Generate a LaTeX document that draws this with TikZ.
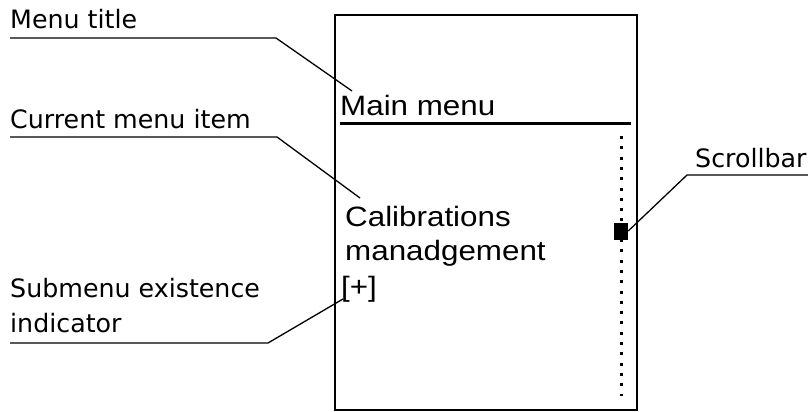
\documentclass[tikz,border=0pt]{standalone}
\usepackage{fontspec}
\setmainfont{DejaVu Sans}
\newfontfamily\dispfont[FakeStretch=1.12]{Liberation Sans}
\begin{document}
\begin{tikzpicture}[x=1pt,y=-1pt,
  lbl/.style={anchor=base west,inner sep=0pt,font=\fontsize{25.3}{35}\selectfont},
  disp/.style={anchor=base west,inner sep=0pt,font=\dispfont\fontsize{28}{34}\selectfont},
  leader/.style={line width=1.3pt},
  frame/.style={line width=2pt}]
\useasboundingbox (0,0) rectangle (808,412);
% screen frame
\draw[frame] (335,15) rectangle (637,410);
% display texts
\node[disp] (mm) at (340,115) {Main menu};
\draw[line width=2.8pt] (340,123.5) -- (631,123.5);
\node[disp] (cal) at (345,226) {Calibrations};
\node[disp] (man) at (345,260) {manadgement};
\node[disp] (plus) at (341,296) {[+]};
% scrollbar
\draw[line width=3pt, dash pattern=on 3pt off 7.3pt] (621,136) -- (621,396);
\node[fill=black,minimum width=14pt,minimum height=17pt,inner sep=0pt] (sb) at (621,231) {};
% labels
\node[lbl] (t1) at (10,29) {Menu title};
\node[lbl] (t2) at (10,128) {Current menu item};
\node[lbl] (t3) at (10,297) {Submenu existence};
\node[lbl] (t3b) at (10,332) {indicator};
\node[lbl] (t4) at (695,167) {Scrollbar};
% leader coordinates
\coordinate (a1) at (10,38);   \coordinate (b1) at (276,38);  \coordinate (c1) at (352,91);
\coordinate (a2) at (10,137);  \coordinate (b2) at (277,137); \coordinate (c2) at (360,198);
\coordinate (a3) at (10,343);  \coordinate (b3) at (268,343); \coordinate (c3) at (343,299);
\coordinate (a4) at (808,175); \coordinate (b4) at (687,175); \coordinate (c4) at (sb.east);
\draw[leader] (a1) -- (b1) -- (c1);
\draw[leader] (a2) -- (b2) -- (c2);
\draw[leader] (a3) -- (b3) -- (c3);
\draw[leader] (a4) -- (b4) -- (c4);
\end{tikzpicture}
\end{document}
